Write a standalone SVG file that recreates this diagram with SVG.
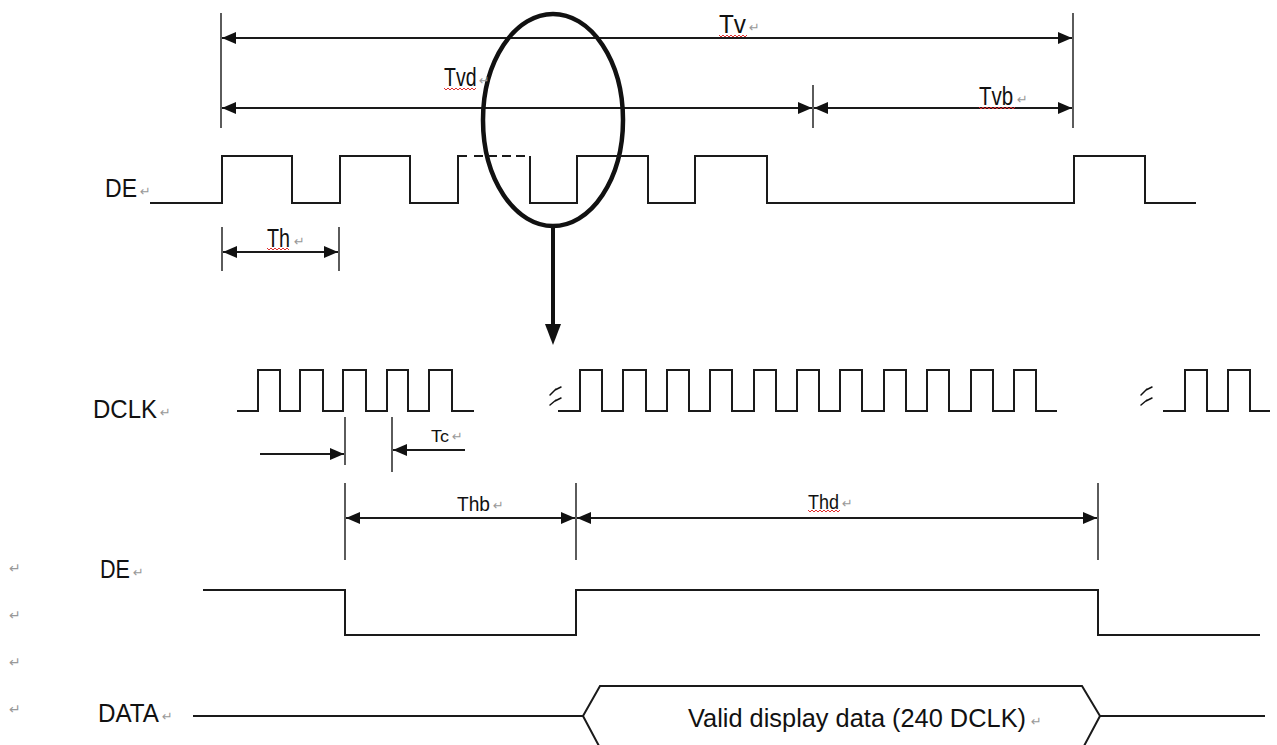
<svg xmlns="http://www.w3.org/2000/svg" width="1277" height="745" viewBox="0 0 1277 745">
<style>
.w{fill:none;stroke:#1a1a1a;stroke-width:2}
.dash{fill:none;stroke:#1a1a1a;stroke-width:2;stroke-dasharray:9 5}
.v{fill:none;stroke:#333;stroke-width:1.6}
.dim{fill:none;stroke:#1a1a1a;stroke-width:2}
.lbl{font-family:"Liberation Sans",Arial,sans-serif;font-size:25px;fill:#111}
.sm{font-size:20px}
.xs{font-size:17px}
.pm{font-family:"DejaVu Sans",sans-serif;font-size:13px;fill:#999}
.pl{font-family:"DejaVu Sans",sans-serif;font-size:14px;fill:#999}
.spell{fill:none;stroke:#e03030;stroke-width:1}
.brk{fill:none;stroke:#111;stroke-width:1.5;stroke-linecap:round}
</style>
<defs>
<marker id="ah" viewBox="0 0 14 12" refX="14" refY="6" markerWidth="14" markerHeight="12" markerUnits="userSpaceOnUse" orient="auto-start-reverse"><path d="M0,0 L14,6 L0,12 z" fill="#111"/></marker>
</defs>

<g id="connectors">
  <line class="v" x1="221" y1="13" x2="221" y2="128"/>
  <line class="v" x1="1073" y1="13" x2="1073" y2="128"/>
  <line class="v" x1="813" y1="85" x2="813" y2="128"/>
  <line class="dim" x1="222" y1="38" x2="1072" y2="38" marker-start="url(#ah)" marker-end="url(#ah)"/>
  <line class="dim" x1="222" y1="108" x2="812" y2="108" marker-start="url(#ah)" marker-end="url(#ah)"/>
  <line class="dim" x1="814" y1="108" x2="1072" y2="108" marker-start="url(#ah)" marker-end="url(#ah)"/>
  <line class="v" x1="222" y1="227" x2="222" y2="271"/>
  <line class="v" x1="339" y1="227" x2="339" y2="271"/>
  <line class="dim" x1="223" y1="252" x2="338" y2="252" marker-start="url(#ah)" marker-end="url(#ah)"/>
  <ellipse cx="553" cy="120" rx="70" ry="106" fill="none" stroke="#111" stroke-width="4.5"/>
  <line x1="553" y1="226" x2="553" y2="328" stroke="#111" stroke-width="4"/>
  <path d="M545,324 L561,324 L553,345 z" fill="#111"/>
  <line class="v" x1="345" y1="417" x2="345" y2="465"/>
  <line class="v" x1="392" y1="417" x2="392" y2="472"/>
  <line class="dim" x1="260" y1="454" x2="344" y2="454" marker-end="url(#ah)"/>
  <line class="dim" x1="465" y1="450" x2="393" y2="450" marker-end="url(#ah)"/>
  <line class="v" x1="345" y1="483" x2="345" y2="560"/>
  <line class="v" x1="576" y1="483" x2="576" y2="560"/>
  <line class="v" x1="1098" y1="483" x2="1098" y2="560"/>
  <line class="dim" x1="346" y1="518" x2="575" y2="518" marker-start="url(#ah)" marker-end="url(#ah)"/>
  <line class="dim" x1="577" y1="518" x2="1097" y2="518" marker-start="url(#ah)" marker-end="url(#ah)"/>
</g>

<g id="de-top">
  <path class="w" d="M150,203 H222 V156 H292 V203 H340 V156 H410 V203 H458 V156 H467"/>
  <path class="dash" d="M474,156 H530"/>
  <path class="w" d="M530,156 V203 H577 V156 H648 V203 H695 V156 H767 V203 H1074 V156 H1145 V203 H1196"/>
</g>

<g id="dclk">
  <path class="w" d="M237,411 H258 V370 H280 V411 H300 V370 H323 V411 H343 V370 H366 V411 H387 V370 H408 V411 H429 V370 H452 V411 H474"/>
  <path class="brk" d="M550,395 L556,389 M555,390 L561,387 M550,405 L556,400 M555,401 L561,398"/>
  <path class="w" d="M558,411 H580 V370 H602 V411 H623 V370 H646 V411 H667 V370 H689 V411 H710 V370 H732 V411 H754 V370 H776 V411 H797 V370 H819 V411 H840 V370 H862 V411 H884 V370 H906 V411 H927 V370 H949 V411 H971 V370 H993 V411 H1014 V370 H1036 V411 H1057"/>
  <path class="brk" d="M1141,395 L1147,389 M1146,390 L1152,387 M1141,405 L1147,400 M1146,401 L1152,398"/>
  <path class="w" d="M1163,411 H1185 V370 H1207 V411 H1228 V370 H1250 V411 H1270"/>
</g>

<g id="de-bottom">
  <path class="w" d="M203,590 H345 V635 H576 V590 H1098 V635 H1260"/>
</g>

<g id="data">
  <path class="w" d="M193,716 H583 L600,686 H1082 L1100,716 H1265"/>
  <path class="w" d="M583,716 L599,746 M1100,716 L1084,746"/>
  <text class="lbl" x="688" y="727" textLength="338" lengthAdjust="spacingAndGlyphs">Valid display data (240 DCLK)</text>
  <text class="pm" x="1031" y="726">↵</text>
</g>

<g id="labels">
  <text class="lbl" x="719" y="33" textLength="27" lengthAdjust="spacingAndGlyphs">Tv</text>
  <text class="pm" x="749" y="32">↵</text>
  <text class="lbl" transform="translate(444,86) scale(0.78,1)">Tvd</text>
  <text class="pm" x="479" y="85">↵</text>
  <text class="lbl" transform="translate(979,105) scale(0.82,1)">Tvb</text>
  <text class="pm" x="1017" y="104">↵</text>
  <text class="lbl" x="105" y="197" textLength="32" lengthAdjust="spacingAndGlyphs">DE</text>
  <text class="pm" x="140" y="196">↵</text>
  <text class="lbl" x="267" y="247" textLength="23" lengthAdjust="spacingAndGlyphs">Th</text>
  <text class="pm" x="294" y="246">↵</text>
  <text class="lbl" x="93" y="418" textLength="64" lengthAdjust="spacingAndGlyphs">DCLK</text>
  <text class="pm" x="160" y="417">↵</text>
  <text class="lbl xs" x="431" y="442" textLength="18" lengthAdjust="spacingAndGlyphs">Tc</text>
  <text class="pm" x="452" y="441">↵</text>
  <text class="lbl sm" x="457" y="511" textLength="33" lengthAdjust="spacingAndGlyphs">Thb</text>
  <text class="pm" x="493" y="510">↵</text>
  <text class="lbl sm" x="808" y="509" textLength="31" lengthAdjust="spacingAndGlyphs">Thd</text>
  <text class="pm" x="842" y="508">↵</text>
  <text class="lbl" x="100" y="578" textLength="30" lengthAdjust="spacingAndGlyphs">DE</text>
  <text class="pm" x="133" y="577">↵</text>
  <text class="lbl" x="98" y="722" textLength="61" lengthAdjust="spacingAndGlyphs">DATA</text>
  <text class="pm" x="162" y="721">↵</text>
  <text class="pl" x="9" y="573">↵</text>
  <text class="pl" x="9" y="620">↵</text>
  <text class="pl" x="9" y="667">↵</text>
  <text class="pl" x="9" y="714">↵</text>
  <path class="spell" d="M719,35 l2,2 l2,-2 l2,2 l2,-2 l2,2 l2,-2 l2,2 l2,-2 l2,2 l2,-2 l2,2 l2,-2 l2,2 l2,-2"/>
  <path class="spell" d="M444,88 l2,2 l2,-2 l2,2 l2,-2 l2,2 l2,-2 l2,2 l2,-2 l2,2 l2,-2 l2,2 l2,-2 l2,2 l2,-2 l2,2 l2,-2"/>
  <path class="spell" d="M979,107 l2,2 l2,-2 l2,2 l2,-2 l2,2 l2,-2 l2,2 l2,-2 l2,2 l2,-2 l2,2 l2,-2 l2,2 l2,-2 l2,2 l2,-2 l2,2 l2,-2"/>
  <path class="spell" d="M267,248 l2,2 l2,-2 l2,2 l2,-2 l2,2 l2,-2 l2,2 l2,-2 l2,2 l2,-2 l2,2"/>
  <path class="spell" d="M808,510 l2,2 l2,-2 l2,2 l2,-2 l2,2 l2,-2 l2,2 l2,-2 l2,2 l2,-2 l2,2 l2,-2 l2,2 l2,-2 l2,2 l2,-2"/>
</g>
</svg>
